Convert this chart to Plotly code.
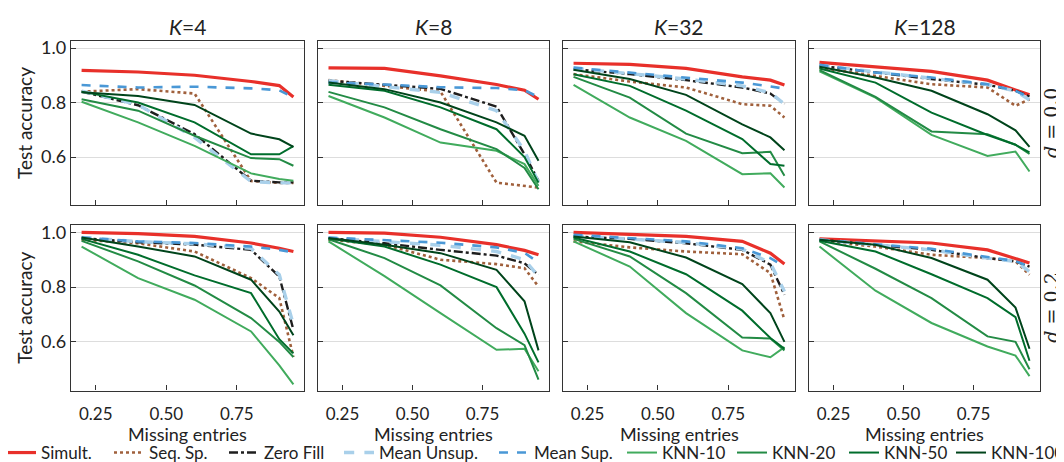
import plotly.graph_objects as go

# ---------------- data ----------------
x_missing = [0.2, 0.4, 0.6, 0.8, 0.9, 0.95]
k_values = [4, 8, 32, 128]
d_labels = ["0.0", "0.2"]
method_names = ["Simult.", "Seq. Sp.", "Zero Fill", "Mean Unsup.", "Mean Sup.",
                "KNN-10", "KNN-20", "KNN-50", "KNN-100"]
x_tick_vals = [0.25, 0.50, 0.75]
x_tick_text = ["0.25", "0.50", "0.75"]
y_tick_vals = [0.6, 0.8, 1.0]
y_tick_text = ["0.6", "0.8", "1.0"]
x_title = "Missing entries"
y_title = "Test accuracy"

# d = 0.0, lists ordered by K = 4, 8, 32, 128
simult_d0 = [[0.918, 0.912, 0.900, 0.877, 0.862, 0.820],
             [0.927, 0.925, 0.898, 0.866, 0.845, 0.812],
             [0.944, 0.940, 0.925, 0.894, 0.882, 0.864],
             [0.947, 0.931, 0.914, 0.882, 0.845, 0.828]]
seqsp_d0 = [[0.840, 0.849, 0.833, 0.512, 0.505, 0.505],
            [0.882, 0.862, 0.840, 0.506, 0.495, 0.488],
            [0.904, 0.877, 0.855, 0.794, 0.788, 0.745],
            [0.928, 0.898, 0.867, 0.855, 0.788, 0.812]]
zerofill_d0 = [[0.840, 0.790, 0.684, 0.513, 0.507, 0.507],
               [0.880, 0.866, 0.850, 0.785, 0.610, 0.513],
               [0.922, 0.904, 0.882, 0.855, 0.833, 0.794],
               [0.935, 0.910, 0.886, 0.865, 0.843, 0.822]]
meanunsup_d0 = [[0.842, 0.792, 0.672, 0.510, 0.505, 0.505],
                [0.880, 0.857, 0.837, 0.770, 0.623, 0.506],
                [0.926, 0.906, 0.886, 0.861, 0.836, 0.794],
                [0.936, 0.911, 0.889, 0.866, 0.842, 0.810]]
meansup_d0 = [[0.864, 0.855, 0.858, 0.852, 0.845, 0.818],
              [0.873, 0.866, 0.856, 0.853, 0.845, 0.820],
              [0.928, 0.910, 0.892, 0.873, 0.859, 0.851],
              [0.938, 0.910, 0.892, 0.867, 0.843, 0.818]]
knn10_d0 = [[0.803, 0.727, 0.641, 0.540, 0.519, 0.513],
            [0.824, 0.745, 0.653, 0.623, 0.574, 0.494],
            [0.865, 0.745, 0.659, 0.537, 0.540, 0.488],
            [0.914, 0.818, 0.681, 0.604, 0.620, 0.547]]
knn20_d0 = [[0.812, 0.770, 0.678, 0.596, 0.592, 0.568],
            [0.839, 0.782, 0.702, 0.629, 0.560, 0.482],
            [0.894, 0.818, 0.686, 0.614, 0.619, 0.531],
            [0.919, 0.821, 0.694, 0.684, 0.645, 0.611]]
knn50_d0 = [[0.840, 0.800, 0.727, 0.610, 0.610, 0.640],
            [0.865, 0.843, 0.782, 0.702, 0.600, 0.506],
            [0.904, 0.861, 0.770, 0.666, 0.574, 0.568],
            [0.925, 0.873, 0.763, 0.681, 0.645, 0.617]]
knn100_d0 = [[0.838, 0.824, 0.791, 0.686, 0.665, 0.637],
             [0.873, 0.849, 0.800, 0.727, 0.678, 0.586],
             [0.920, 0.886, 0.828, 0.720, 0.672, 0.625],
             [0.931, 0.892, 0.843, 0.757, 0.698, 0.637]]

# d = 0.2
simult_d2 = [[1.000, 0.995, 0.985, 0.961, 0.942, 0.930],
             [1.000, 0.997, 0.982, 0.955, 0.934, 0.918],
             [1.000, 0.993, 0.985, 0.967, 0.924, 0.884],
             [0.976, 0.969, 0.961, 0.936, 0.902, 0.888]]
seqsp_d2 = [[0.973, 0.960, 0.930, 0.833, 0.760, 0.545],
            [0.973, 0.955, 0.900, 0.884, 0.869, 0.802],
            [0.967, 0.945, 0.930, 0.920, 0.851, 0.680],
            [0.969, 0.948, 0.918, 0.906, 0.894, 0.845]]
zerofill_d2 = [[0.979, 0.964, 0.955, 0.936, 0.839, 0.644],
               [0.979, 0.960, 0.936, 0.915, 0.887, 0.845],
               [0.985, 0.976, 0.960, 0.936, 0.882, 0.772],
               [0.973, 0.955, 0.936, 0.906, 0.894, 0.875]]
meanunsup_d2 = [[0.981, 0.966, 0.958, 0.942, 0.845, 0.663],
                [0.979, 0.967, 0.953, 0.930, 0.900, 0.839],
                [0.988, 0.976, 0.963, 0.939, 0.888, 0.784],
                [0.973, 0.955, 0.936, 0.906, 0.894, 0.857]]
meansup_d2 = [[0.981, 0.967, 0.961, 0.948, 0.936, 0.927],
              [0.981, 0.972, 0.962, 0.945, 0.925, 0.890],
              [0.991, 0.979, 0.967, 0.942, 0.906, 0.875],
              [0.973, 0.957, 0.940, 0.910, 0.895, 0.875]]
knn10_d2 = [[0.948, 0.833, 0.754, 0.638, 0.514, 0.445],
            [0.967, 0.840, 0.705, 0.571, 0.575, 0.493],
            [0.967, 0.875, 0.705, 0.569, 0.544, 0.581],
            [0.948, 0.787, 0.669, 0.583, 0.550, 0.475]]
knn20_d2 = [[0.969, 0.894, 0.806, 0.687, 0.600, 0.545],
            [0.975, 0.906, 0.806, 0.650, 0.588, 0.462],
            [0.976, 0.912, 0.778, 0.616, 0.612, 0.569],
            [0.967, 0.867, 0.760, 0.620, 0.600, 0.500]]
knn50_d2 = [[0.976, 0.918, 0.843, 0.778, 0.610, 0.558],
            [0.977, 0.948, 0.882, 0.800, 0.630, 0.525],
            [0.981, 0.930, 0.847, 0.714, 0.614, 0.575],
            [0.969, 0.930, 0.847, 0.760, 0.690, 0.531]]
knn100_d2 = [[0.981, 0.948, 0.912, 0.827, 0.711, 0.624],
             [0.979, 0.955, 0.924, 0.863, 0.748, 0.569],
             [0.985, 0.964, 0.908, 0.811, 0.705, 0.600],
             [0.973, 0.955, 0.906, 0.827, 0.725, 0.575]]

series_d0 = [simult_d0, seqsp_d0, zerofill_d0, meanunsup_d0, meansup_d0,
             knn10_d0, knn20_d0, knn50_d0, knn100_d0]
series_d2 = [simult_d2, seqsp_d2, zerofill_d2, meanunsup_d2, meansup_d2,
             knn10_d2, knn20_d2, knn50_d2, knn100_d2]
series_by_row = [series_d0, series_d2]

# ---------------- styles ----------------
colors = ["#e8302a", "#a0603c", "#1e1e1e", "#a9d0ea", "#4a98d6",
          "#41ab5d", "#238b45", "#006d2c", "#00441b"]
dashes = ["solid", "dot", "dashdot", "dash", "dash",
          "solid", "solid", "solid", "solid"]
widths = [3.2, 2.6, 2.4, 3.4, 2.6, 2.0, 2.0, 2.0, 2.0]

W, H = 1064, 462
col_px = [(63, 296), (310, 541), (555, 787), (801, 1032)]
row_px = [(32.5, 197.4), (216.8, 382.5)]
x_range = [0.1625, 0.9875]
y_range = [0.4225, 1.0275]

FONT = "Lato, Open Sans, DejaVu Sans, sans-serif"
TXT = "#222222"
AX = "#333333"

fig = go.Figure()
layout = {}
legend_text_px = [42, 150, 265, 380, 535, 663, 773, 885, 992]

for r in range(2):
    for c in range(4):
        i = r * 4 + c
        xa = "x" if i == 0 else f"x{i+1}"
        ya = "y" if i == 0 else f"y{i+1}"
        xk = "xaxis" if i == 0 else f"xaxis{i+1}"
        yk = "yaxis" if i == 0 else f"yaxis{i+1}"
        x0, x1 = col_px[c]
        y0, y1 = row_px[r]
        layout[xk] = dict(
            domain=[x0 / W, x1 / W], anchor=ya, range=x_range,
            showline=True, mirror=True, linecolor=AX, linewidth=1.3,
            ticks="inside", ticklen=5, tickwidth=1.3, tickcolor=AX,
            tickvals=x_tick_vals, ticktext=x_tick_text,
            showticklabels=(r == 1), showgrid=False, zeroline=False,
            tickfont=dict(size=17, color=TXT, family=FONT),
            ticklabelstandoff=8,
            automargin=False,
        )
        layout[yk] = dict(
            domain=[1 - y1 / H, 1 - y0 / H], anchor=xa, range=y_range,
            showline=True, mirror=True, linecolor=AX, linewidth=1.3,
            ticks="inside", ticklen=5, tickwidth=1.3, tickcolor=AX,
            tickvals=y_tick_vals, ticktext=y_tick_text,
            showticklabels=(c == 0), showgrid=True, gridcolor="#dddddd",
            gridwidth=1, zeroline=False,
            tickfont=dict(size=18, color=TXT, family=FONT),
            automargin=False,
        )
        for m in range(9):
            fig.add_trace(go.Scatter(
                x=x_missing, y=series_by_row[r][m][c], mode="lines",
                name=method_names[m], xaxis=xa, yaxis=ya,
                line=dict(color=colors[m], dash=dashes[m], width=widths[m]),
                showlegend=(i == 0),
                legend="legend" if m == 0 else f"legend{m+1}",
                hoverinfo="skip",
            ))

# one legend per entry so that positions match
for m in range(9):
    key = "legend" if m == 0 else f"legend{m+1}"
    layout[key] = dict(
        x=(legend_text_px[m] - 49) / W, xanchor="left", y=1 - 445 / H,
        yanchor="middle", orientation="h", bgcolor="rgba(0,0,0,0)",
        borderwidth=0, font=dict(size=17, color=TXT, family=FONT), itemwidth=30,
    )

annotations = []
for c in range(4):
    x0, x1 = col_px[c]
    annotations.append(dict(
        text=f"<i>K</i>={k_values[c]}", xref="paper", yref="paper",
        x=(x0 + x1) / 2 / W, y=1 - 19 / H, showarrow=False,
        xanchor="center", yanchor="middle",
        font=dict(size=21, color=TXT, family=FONT)))
    annotations.append(dict(
        text=x_title, xref="paper", yref="paper",
        x=(x0 + x1) / 2 / W, y=1 - 426 / H, showarrow=False,
        xanchor="center", yanchor="middle",
        font=dict(size=18, color=TXT, family=FONT)))
for r in range(2):
    y0, y1 = row_px[r]
    annotations.append(dict(
        text=y_title, xref="paper", yref="paper",
        x=17 / W, y=1 - (y0 + y1) / 2 / H, showarrow=False, textangle=-90,
        xanchor="center", yanchor="middle",
        font=dict(size=19, color=TXT, family=FONT)))
    annotations.append(dict(
        text=f"<i>d</i> = {d_labels[r]}", xref="paper", yref="paper",
        x=1043 / W, y=1 - (y0 + y1) / 2 / H, showarrow=False, textangle=-90,
        xanchor="center", yanchor="middle",
        font=dict(size=19, color=TXT, family="DejaVu Serif, Liberation Serif, serif")))

fig.update_layout(
    width=W, height=H, template="none",
    margin=dict(l=0, r=0, t=0, b=0, autoexpand=False),
    paper_bgcolor="white", plot_bgcolor="white",
    annotations=annotations,
    **layout,
)

fig.write_html("out.html")
